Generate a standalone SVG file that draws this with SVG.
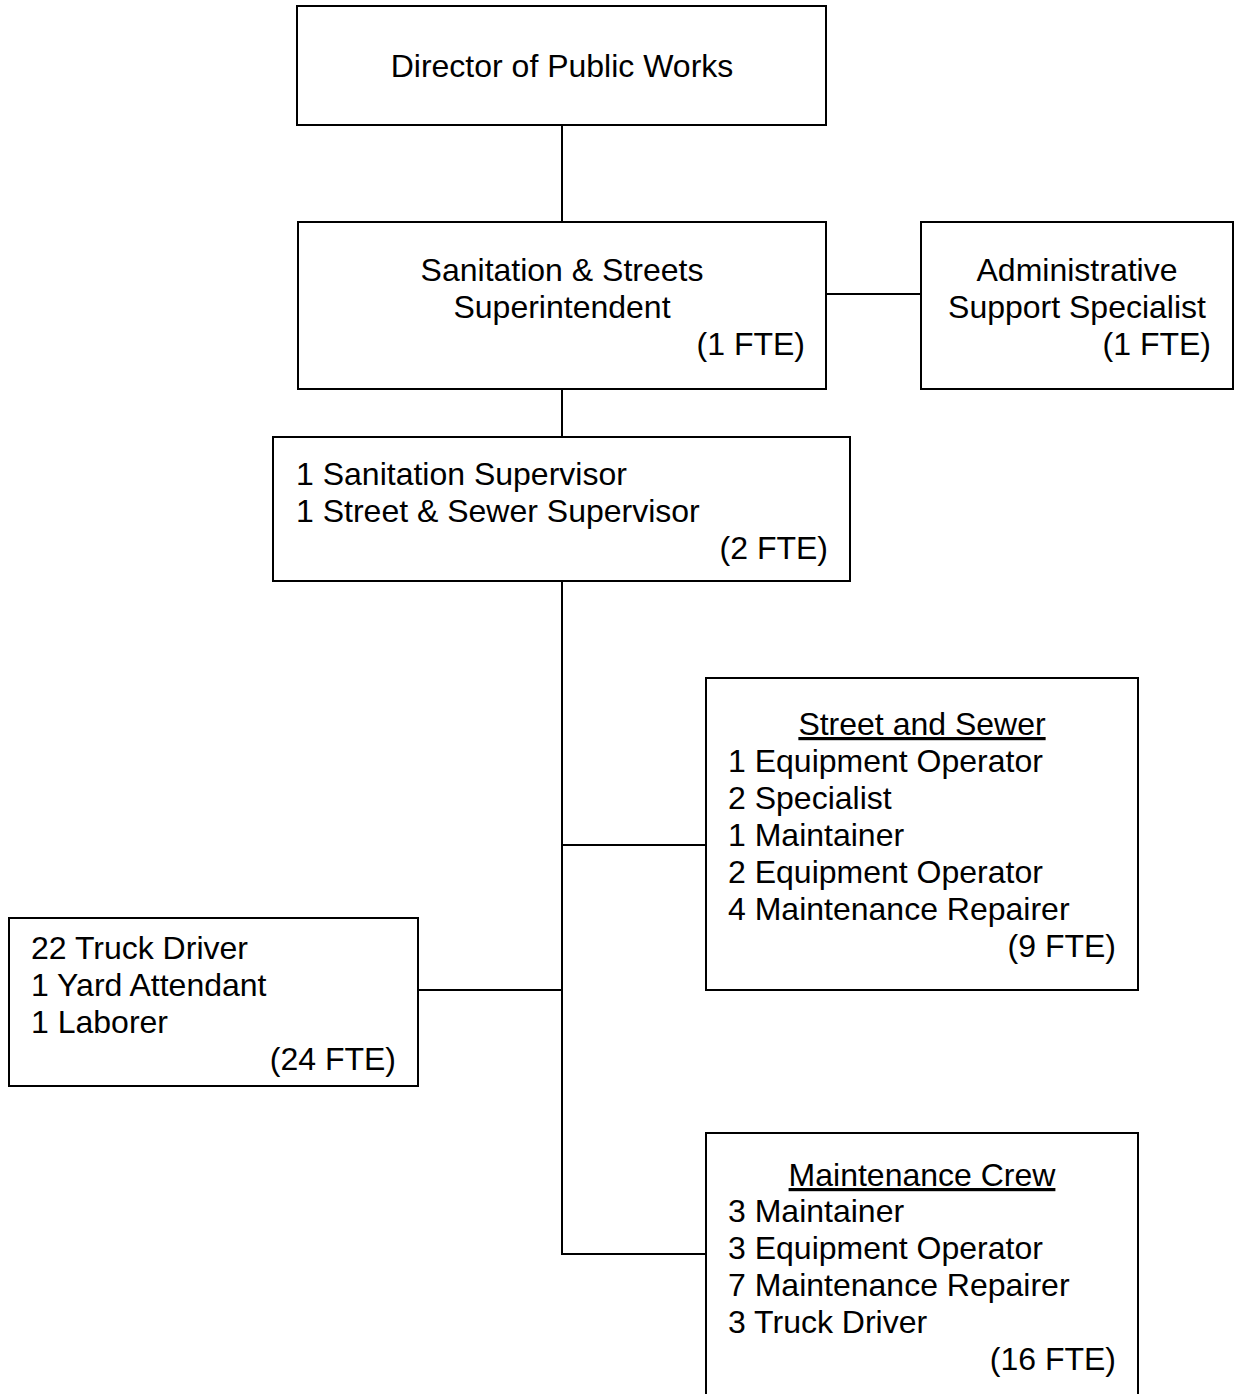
<svg xmlns="http://www.w3.org/2000/svg" width="1236" height="1394" viewBox="0 0 1236 1394">
<style>
rect.box { fill: #fff; stroke: #000; stroke-width: 2; }
.conn line, .conn path { stroke: #000; stroke-width: 2; fill: none; }
text { font-family: "Liberation Sans", Arial, sans-serif; font-size: 32px; fill: #000; }
.c { text-anchor: middle; }
.r { text-anchor: end; }
.u { text-decoration: underline; }
</style>
<rect width="1236" height="1394" fill="#fff"/>
<g class="conn" id="connectors">
<line x1="562" y1="125" x2="562" y2="222"/>
<line x1="826" y1="294" x2="921" y2="294"/>
<line x1="562" y1="389" x2="562" y2="437"/>
<path d="M562 581 V1254 H706"/>
<line x1="562" y1="845" x2="706" y2="845"/>
<line x1="418" y1="990" x2="562" y2="990"/>
</g>
<g id="director">
<rect class="box" x="297" y="6" width="529" height="119"/>
<text class="c" x="562" y="77">Director of Public Works</text>
</g>
<g id="superintendent">
<rect class="box" x="298" y="222" width="528" height="167"/>
<text class="c" x="562" y="281">Sanitation &amp; Streets</text>
<text class="c" x="562" y="318">Superintendent</text>
<text class="r" x="805" y="355">(1 FTE)</text>
</g>
<g id="admin">
<rect class="box" x="921" y="222" width="312" height="167"/>
<text class="c" x="1077" y="281">Administrative</text>
<text class="c" x="1077" y="318">Support Specialist</text>
<text class="r" x="1211" y="355">(1 FTE)</text>
</g>
<g id="supervisors">
<rect class="box" x="273" y="437" width="577" height="144"/>
<text x="296" y="485">1 Sanitation Supervisor</text>
<text x="296" y="522">1 Street &amp; Sewer Supervisor</text>
<text class="r" x="828" y="559">(2 FTE)</text>
</g>
<g id="street-sewer">
<rect class="box" x="706" y="678" width="432" height="312"/>
<text class="c u" x="922" y="735">Street and Sewer</text>
<text x="728" y="772">1 Equipment Operator</text>
<text x="728" y="809">2 Specialist</text>
<text x="728" y="846">1 Maintainer</text>
<text x="728" y="883">2 Equipment Operator</text>
<text x="728" y="920">4 Maintenance Repairer</text>
<text class="r" x="1116" y="957">(9 FTE)</text>
</g>
<g id="sanitation-crew">
<rect class="box" x="9" y="918" width="409" height="168"/>
<text x="31" y="959">22 Truck Driver</text>
<text x="31" y="996">1 Yard Attendant</text>
<text x="31" y="1033">1 Laborer</text>
<text class="r" x="396" y="1070">(24 FTE)</text>
</g>
<g id="maintenance-crew">
<rect class="box" x="706" y="1133" width="432" height="275"/>
<text class="c u" x="922" y="1186">Maintenance Crew</text>
<text x="728" y="1222">3 Maintainer</text>
<text x="728" y="1259">3 Equipment Operator</text>
<text x="728" y="1296">7 Maintenance Repairer</text>
<text x="728" y="1333">3 Truck Driver</text>
<text class="r" x="1116" y="1370">(16 FTE)</text>
</g>
</svg>
